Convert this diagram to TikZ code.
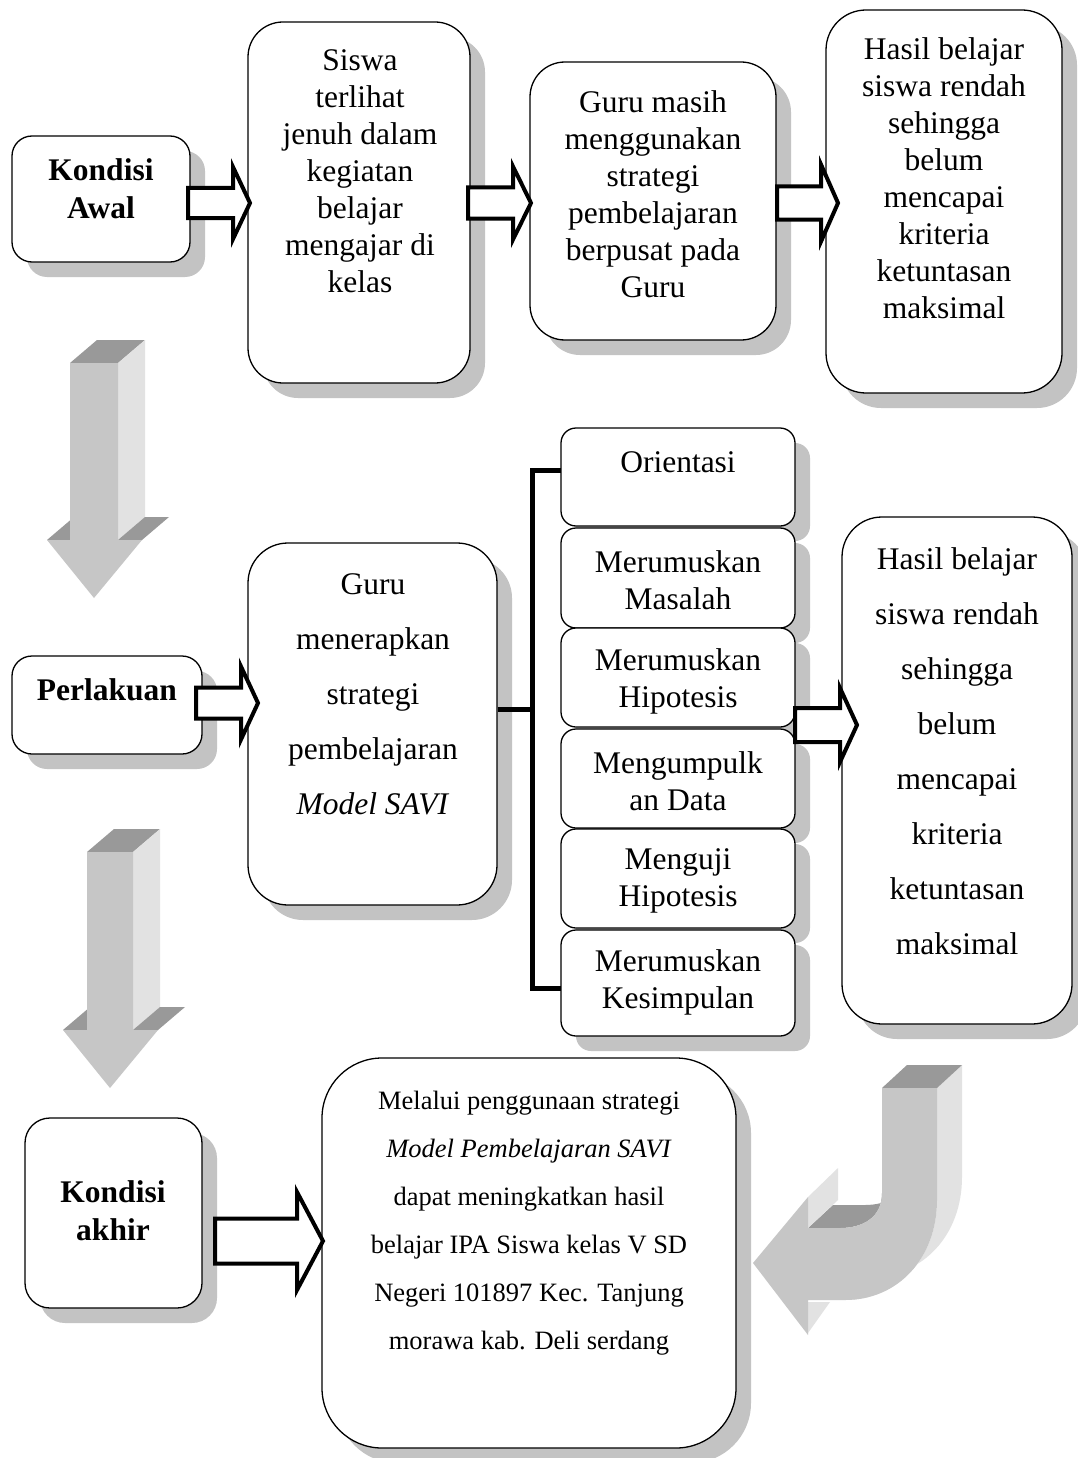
\documentclass[tikz,border=0pt]{standalone}
\usepackage{fontspec}
\setmainfont{Liberation Serif}
\usetikzlibrary{shadows,calc}
\definecolor{shd}{RGB}{195,195,195}
\definecolor{afront}{RGB}{198,198,198}
\definecolor{aside}{RGB}{226,226,226}
\definecolor{atop}{RGB}{153,153,153}
\tikzset{
  box/.style={draw, line width=1.3pt, fill=white, inner sep=0pt,
    drop shadow={shadow xshift=15pt, shadow yshift=-15pt, fill=shd, opacity=1}},
  txt/.style={align=center, inner sep=0pt, font=\fontsize{31.5}{37}\selectfont},
  txtwide/.style={align=center, inner sep=0pt, font=\fontsize{31.5}{55}\selectfont},
  txtbold/.style={align=center, inner sep=0pt, font=\fontsize{31.5}{38}\selectfont\bfseries},
  txtsmall/.style={align=center, inner sep=0pt, font=\fontsize{26.5}{48}\selectfont},
  harrow/.style={draw=black, line width=4pt, fill=white, line join=miter},
  brk/.style={draw=black, line width=5pt, line join=miter},
}
% hollow block arrow: xstart, xheadbase, xtip, ycenter, shafthalf, headhalf
\newcommand\blockarr[6]{%
  \path[harrow] (#1,{#4-#5}) -- (#2,{#4-#5}) -- (#2,{#4-#6}) -- (#3,#4)
    -- (#2,{#4+#6}) -- (#2,{#4+#5}) -- (#1,{#4+#5}) -- cycle;}
% 3D down arrow: x0 x1 ytop yhead xl xr xm ytip
\newcommand\tdarrow[8]{%
  \fill[atop] (#1,#3) -- (#2,#3) -- ({#2+27},{#3-23}) -- ({#1+27},{#3-23}) -- cycle;
  \fill[aside] (#2,#3) -- ({#2+27},{#3-23}) -- ({#2+27},{#4-23}) -- (#2,#4) -- cycle;
  \fill[atop] (#5,#4) -- (#1,#4) -- ({#1+27},{#4-23}) -- ({#5+27},{#4-23}) -- cycle;
  \fill[atop] (#2,#4) -- (#6,#4) -- ({#6+27},{#4-23}) -- ({#2+27},{#4-23}) -- cycle;
  \fill[afront] (#1,#3) -- (#2,#3) -- (#2,#4) -- (#6,#4) -- (#7,#8) -- (#5,#4) -- (#1,#4) -- cycle;}
\begin{document}
\begin{tikzpicture}[x=1pt,y=-1pt]
\useasboundingbox[fill=white] (0,0) rectangle (1078,1458);

% ---------- 3D arrows ----------
\tdarrow{70}{118}{363}{540}{47}{142}{94}{598}
\tdarrow{87}{133}{852}{1030}{63}{158}{110}{1088}

% curved arrow
\fill[aside] (937,1088) -- (962,1065) -- (962,1177) .. controls (962,1235) and (923,1277) .. (870,1277)
  -- (845,1300) .. controls (898,1300) and (937,1258) .. (937,1200) -- cycle;
\fill[aside] (808,1302) -- (830,1302) -- (808,1333) -- cycle;
\fill[atop] (882,1088) -- (937,1088) -- (962,1065) -- (907,1065) -- cycle;
\fill[atop] (808,1228) -- (840,1228) .. controls (862,1228) and (882,1218) .. (882,1193)
  -- (907,1170) .. controls (907,1195) and (887,1205) .. (865,1205) -- (833,1205) -- cycle;
\fill[aside] (808,1197) -- (808,1228) -- (838,1200) -- (838,1168) -- cycle;
\fill[afront] (882,1088) -- (882,1193) .. controls (882,1218) and (862,1228) .. (840,1228)
  -- (808,1228) -- (808,1197) -- (753,1263) -- (808,1335) -- (808,1300) -- (845,1300)
  .. controls (898,1300) and (937,1258) .. (937,1200) -- (937,1088) -- cycle;

% ---------- boxes ----------
\node[box, rounded corners=20pt, minimum width=178pt, minimum height=126pt] (ka) at (101,199) {};
\node[box, rounded corners=35pt, minimum width=222pt, minimum height=361pt] (b2) at (359,202.5) {};
\node[box, rounded corners=35pt, minimum width=246pt, minimum height=278pt] (b3) at (653,201) {};
\node[box, rounded corners=40pt, minimum width=236pt, minimum height=383pt] (b4) at (944,201.5) {};
\node[box, rounded corners=20pt, minimum width=190pt, minimum height=98pt] (pl) at (107,705) {};
\node[box, rounded corners=40pt, minimum width=249pt, minimum height=362pt] (gm) at (372.5,724) {};
\node[box, rounded corners=15pt, minimum width=234pt, minimum height=98pt] (s1) at (678,477) {};
\node[box, rounded corners=15pt, minimum width=234pt, minimum height=100pt] (s2) at (678,578) {};
\node[box, rounded corners=15pt, minimum width=234pt, minimum height=99pt] (s3) at (678,677.5) {};
\node[box, rounded corners=15pt, minimum width=234pt, minimum height=99pt] (s4) at (678,778.5) {};
\node[box, rounded corners=15pt, minimum width=234pt, minimum height=99pt] (s5) at (678,878.5) {};
\node[box, rounded corners=15pt, minimum width=234pt, minimum height=106pt] (s6) at (678,983) {};
\node[box, rounded corners=40pt, minimum width=230pt, minimum height=507pt] (hr) at (957,770.5) {};
\node[box, rounded corners=25pt, minimum width=177pt, minimum height=190pt] (kk) at (113.5,1213) {};
\node[box, rounded corners=60pt, minimum width=414pt, minimum height=390pt] (bb) at (529,1253) {};

% ---------- texts ----------
\node[txtbold] (kat) at (101,189) {Kondisi\\Awal};
\node[txt] (b2t) at (360,171) {Siswa\\terlihat\\jenuh dalam\\kegiatan\\belajar\\mengajar di\\kelas};
\node[txt] (b3t) at (653,194) {Guru masih\\menggunakan\\strategi\\pembelajaran\\berpusat pada\\Guru};
\node[txt] (b4t) at (944,178) {Hasil belajar\\siswa rendah\\sehingga\\belum\\mencapai\\kriteria\\ketuntasan\\maksimal};
\node[txtbold] (plt) at (107,690) {Perlakuan};
\node[txtwide] (gmt) at (373,694) {Guru\\menerapkan\\strategi\\pembelajaran\\\textit{Model SAVI}};
\node[txt] (s1t) at (678,462) {Orientasi};
\node[txt] (s2t) at (678,580) {Merumuskan\\Masalah};
\node[txt] (s3t) at (678,681) {Merumuskan\\Hipotesis};
\node[txt] (s4t) at (678,781) {Mengumpulk\\an Data};
\node[txt] (s5t) at (678,881) {Menguji\\Hipotesis};
\node[txt] (s6t) at (678,982) {Merumuskan\\Kesimpulan};
\node[txtwide] (hrt) at (957,751) {Hasil belajar\\siswa rendah\\sehingga\\belum\\mencapai\\kriteria\\ketuntasan\\maksimal};
\node[txtbold] (kkt) at (113,1211) {Kondisi\\akhir};
\node[txtsmall] (bbt) at (529,1223) {Melalui penggunaan strategi\\\textit{Model Pembelajaran SAVI}\\dapat meningkatkan hasil\\belajar IPA Siswa kelas V SD\\Negeri 101897 Kec. Tanjung\\morawa kab. Deli serdang};

% ---------- bracket ----------
\coordinate (bx) at (532,709);
\coordinate (bt) at (561,470);
\coordinate (bb2) at (561,988);
\path[brk] (bt) -| (bx) |- (bb2);
\path[brk] (gm.east |- bx) -- (bx);

% ---------- hollow arrows ----------
\blockarr{188}{233}{250}{203}{15}{36}
\blockarr{468}{513}{531}{203}{15.5}{36.5}
\blockarr{777}{821}{838}{203}{16.5}{38.5}
\blockarr{196}{241}{258}{703}{15.5}{36.5}
\blockarr{795}{840}{857}{725}{17}{37}
\blockarr{215}{297}{323}{1241}{22.5}{49}
\end{tikzpicture}
\end{document}
